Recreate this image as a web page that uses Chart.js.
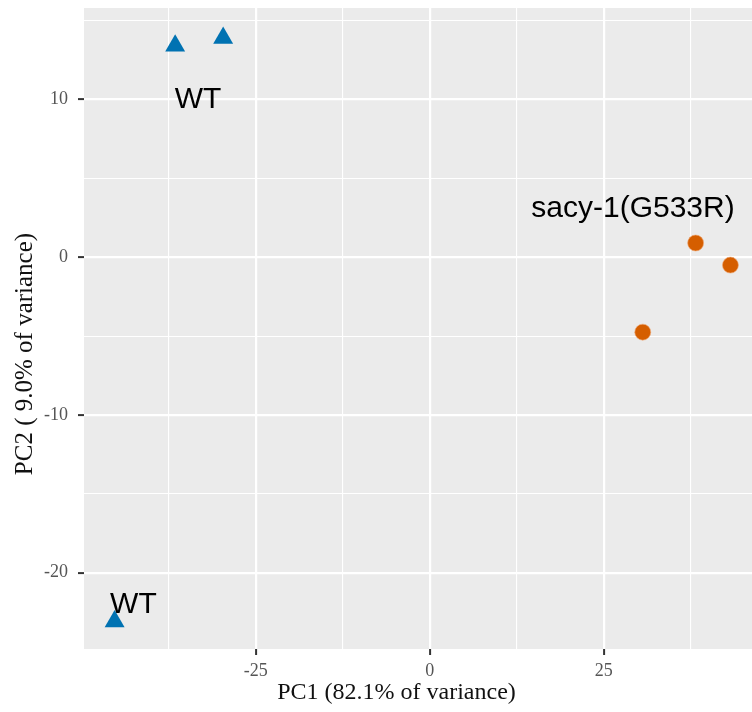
<!DOCTYPE html>
<html>
<head>
<meta charset="utf-8">
<script src="https://cdn.jsdelivr.net/npm/chart.js@4.4.1/dist/chart.umd.min.js"></script>
<style>
html,body{margin:0;padding:0;background:#fff;}
#wrap{width:752px;height:712px;position:relative;}
</style>
</head>
<body>
<div id="wrap"><canvas id="c" width="752" height="712"></canvas></div>
<script>
// ---- data ----
const wtPC1 = [-36.6, -29.7, -45.3];
const wtPC2 = [13.4, 13.9, -23.1];
const sacyPC1 = [38.2, 43.2, 30.6];
const sacyPC2 = [0.9, -0.5, -4.75];
const groupLabels = ["WT", "WT", "sacy-1(G533R)"];
const labelPC1 = [-33.3, -42.6, 29.2];
const labelPC2 = [9.45, -22.57, 2.56];
const xMajorTicks = [-25, 0, 25];
const xMinorTicks = [-37.5, -12.5, 12.5, 37.5];
const yMajorTicks = [-20, -10, 0, 10];
const yMinorTicks = [-15, -5, 5, 15];
const xTitle = "PC1 (82.1% of variance)";
const yTitle = "PC2 ( 9.0% of variance)";
const xRange = [-49.7, 46.3];
const yRange = [-24.84, 15.8];

const BLUE = '#0072B2', ORANGE = '#D55E00';

function toPts(xs, ys){ return xs.map((x,i)=>({x:x, y:ys[i]})); }
function isMajor(list, v){ return list.some(m => Math.abs(m - v) < 1e-6); }

const bgPlugin = {
  id: 'bg',
  beforeDraw(chart){
    const {ctx, chartArea:a} = chart;
    ctx.save();
    ctx.fillStyle = '#EBEBEB';
    ctx.fillRect(a.left, a.top, a.right-a.left, a.bottom-a.top);
    ctx.restore();
  }
};

const textPlugin = {
  id: 'texts',
  afterDatasetsDraw(chart){
    const {ctx, scales:{x, y}} = chart;
    ctx.save();
    ctx.fillStyle = '#000';
    ctx.font = '30px "Liberation Sans", Arial, sans-serif';
    ctx.textAlign = 'center';
    ctx.textBaseline = 'alphabetic';
    groupLabels.forEach((t,i)=>{
      ctx.fillText(t, x.getPixelForValue(labelPC1[i]), y.getPixelForValue(labelPC2[i]));
    });
    ctx.restore();
  },
  afterDraw(chart){
    const {ctx, chartArea:a} = chart;
    ctx.save();
    ctx.fillStyle = '#111';
    ctx.textAlign = 'center';
    ctx.textBaseline = 'middle';
    ctx.font = '24px "Liberation Serif", "Times New Roman", serif';
    ctx.fillText(xTitle, 396.5, a.bottom + 44);
    ctx.font = '25px "Liberation Serif", "Times New Roman", serif';
    ctx.translate(a.left - 59, 354);
    ctx.rotate(-Math.PI/2);
    ctx.fillText(yTitle, 0, 0);
    ctx.restore();
  }
};

function gridOpts(majors){
  return {
    drawOnChartArea: true,
    drawTicks: true,
    color: '#FFFFFF',
    lineWidth: c => isMajor(majors, c.tick ? c.tick.value : NaN) ? 2.2 : 1.1,
    tickColor: c => isMajor(majors, c.tick ? c.tick.value : NaN) ? '#333333' : 'rgba(0,0,0,0)',
    tickLength: 6,
    tickWidth: 2
  };
}
function zeroPad(s){ s.paddingTop = 0; s.paddingBottom = 0; s.paddingLeft = 0; s.paddingRight = 0; }

new Chart(document.getElementById('c'), {
  type: 'scatter',
  data: {
    datasets: [
      {
        label: 'WT',
        data: toPts(wtPC1, wtPC2),
        pointStyle: 'triangle',
        pointRadius: 11.5,
        backgroundColor: BLUE,
        borderColor: BLUE,
        borderWidth: 0
      },
      {
        label: 'sacy-1(G533R)',
        data: toPts(sacyPC1, sacyPC2),
        pointStyle: 'circle',
        pointRadius: 8,
        backgroundColor: ORANGE,
        borderColor: 'rgba(240,170,120,0.6)',
        borderWidth: 1
      }
    ]
  },
  options: {
    responsive: false,
    animation: false,
    devicePixelRatio: 1,
    layout: { autoPadding: false, padding: { top: 8, right: 0, left: 0, bottom: 0 } },
    plugins: { legend: { display: false }, tooltip: { enabled: false } },
    scales: {
      x: {
        type: 'linear',
        min: xRange[0], max: xRange[1],
        afterBuildTicks: s => { s.ticks = xMinorTicks.concat(xMajorTicks).sort((a,b)=>a-b).map(v=>({value:v})); },
        afterFit: s => { s.height = 63; zeroPad(s); },
        border: { display: false },
        grid: gridOpts(xMajorTicks),
        ticks: {
          autoSkip: false,
          maxRotation: 0,
          padding: 5,
          color: '#555555',
          font: { family: '"Liberation Serif", "Times New Roman", serif', size: 18 },
          callback: v => isMajor(xMajorTicks, v) ? String(v) : ''
        },
        title: { display: false }
      },
      y: {
        type: 'linear',
        min: yRange[0], max: yRange[1],
        afterBuildTicks: s => { s.ticks = yMinorTicks.concat(yMajorTicks).sort((a,b)=>a-b).map(v=>({value:v})); },
        afterFit: s => { s.width = 84; zeroPad(s); },
        border: { display: false },
        grid: gridOpts(yMajorTicks),
        ticks: {
          autoSkip: false,
          padding: 10,
          color: '#555555',
          font: { family: '"Liberation Serif", "Times New Roman", serif', size: 18 },
          callback: v => isMajor(yMajorTicks, v) ? String(v) : ''
        },
        title: { display: false }
      }
    }
  },
  plugins: [bgPlugin, textPlugin]
});
</script>
</body>
</html>
